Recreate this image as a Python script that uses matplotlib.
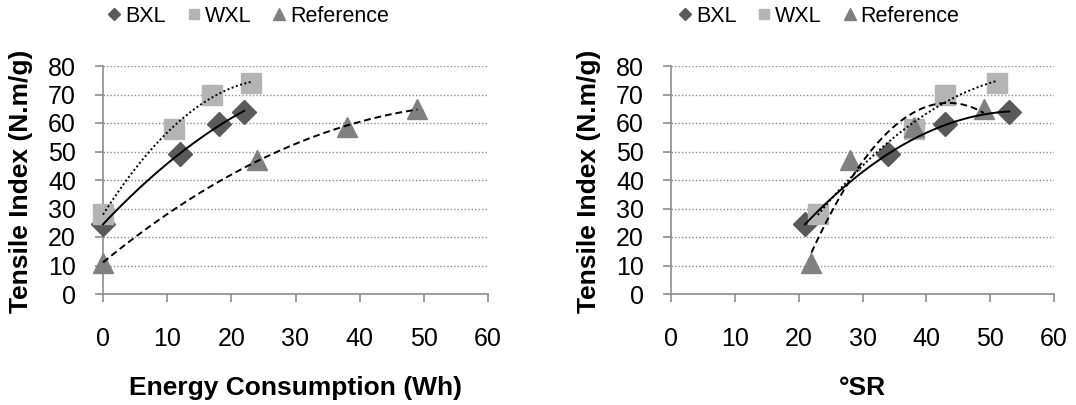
import numpy as np
import matplotlib
matplotlib.use("Agg")
import matplotlib.pyplot as plt

plt.rcParams['font.family'] = ['Liberation Sans', 'DejaVu Sans']

# tensile index values (N.m/g)
bxl_ti = [24.5, 49, 59.5, 64]
wxl_ti = [28, 58, 70, 74]
ref_ti = [11, 47, 58.5, 65]

# energy consumption (Wh)
bxl_energy = [0, 12, 18, 22]
wxl_energy = [0, 11, 17, 23]
ref_energy = [0, 24, 38, 49]

# freeness (°SR)
bxl_sr = [21, 34, 43, 53]
wxl_sr = [23, 38, 43, 51]
ref_sr = [22, 28, 38, 49]

labels = ['BXL', 'WXL', 'Reference']
xticks = [0, 10, 20, 30, 40, 50, 60]
yticks = [0, 10, 20, 30, 40, 50, 60, 70, 80]

c_bxl = '#5a5a5a'
c_wxl = '#b4b4b4'
c_ref = '#808080'
axis_col = '#8c8c8c'

fig = plt.figure(figsize=(10.76, 4.05), dpi=100)
ax1 = fig.add_axes([103/1076, 111/405, 385/1076, 228/405])
ax2 = fig.add_axes([671/1076, 111/405, 383/1076, 228/405])


def trend(ax, x, y, ls):
    # excel style 2nd order polynomial trendline
    c = np.polyfit(x, y, 2)
    xx = np.linspace(min(x), max(x), 200)
    ax.plot(xx, np.polyval(c, xx), color='black', lw=1.4, ls=ls, zorder=6, clip_on=False)


def panel(ax, xb, xw, xr, xlabel, legx):
    ax.plot(xb, bxl_ti, ls='none', marker='D', ms=12, color=c_bxl, label=labels[0], zorder=5, clip_on=False)
    ax.plot(xw, wxl_ti, ls='none', marker='s', ms=14, color=c_wxl, label=labels[1], zorder=5, clip_on=False)
    ax.plot(xr, ref_ti, ls='none', marker='^', ms=15, color=c_ref, label=labels[2], zorder=5, clip_on=False)
    trend(ax, xb, bxl_ti, '-')
    trend(ax, xw, wxl_ti, (0, (1, 1.3)))
    trend(ax, xr, ref_ti, (0, (3.5, 2)))

    ax.set_xlim(0, 60)
    ax.set_ylim(0, 80)
    ax.set_xticks(xticks)
    ax.set_yticks(yticks)
    ax.yaxis.grid(True, ls=(0, (1, 1.5)), color=axis_col, lw=1)
    ax.set_axisbelow(True)
    for s in ['top', 'right']:
        ax.spines[s].set_visible(False)
    for s in ['left', 'bottom']:
        ax.spines[s].set_color(axis_col)
        ax.spines[s].set_linewidth(1.2)
    ax.tick_params(axis='x', length=5.5, width=1.2, color=axis_col, labelsize=18, pad=18)
    ax.tick_params(axis='y', length=5.5, width=1.2, color=axis_col, labelsize=18, pad=14)

    ax.set_xlabel(xlabel, fontsize=19, fontweight='bold', va='baseline')
    ax.xaxis.set_label_coords(0.5, -0.443)
    ax.set_ylabel('Tensile Index (N.m/g)', fontsize=19, fontweight='bold', va='center')
    ax.yaxis.set_label_coords(-0.213, 0.496)

    ax.legend(loc='center left', bbox_to_anchor=(legx, 1.217), ncol=3, frameon=False,
              fontsize=15.5, markerscale=0.55, handlelength=0.6, handletextpad=0.2,
              columnspacing=1.0, borderpad=0, borderaxespad=0)


panel(ax1, bxl_energy, wxl_energy, ref_energy, 'Energy Consumption (Wh)', 0.013)
panel(ax2, bxl_sr, wxl_sr, ref_sr, '°SR', 0.02)

fig.savefig('out.png', dpi=100)
